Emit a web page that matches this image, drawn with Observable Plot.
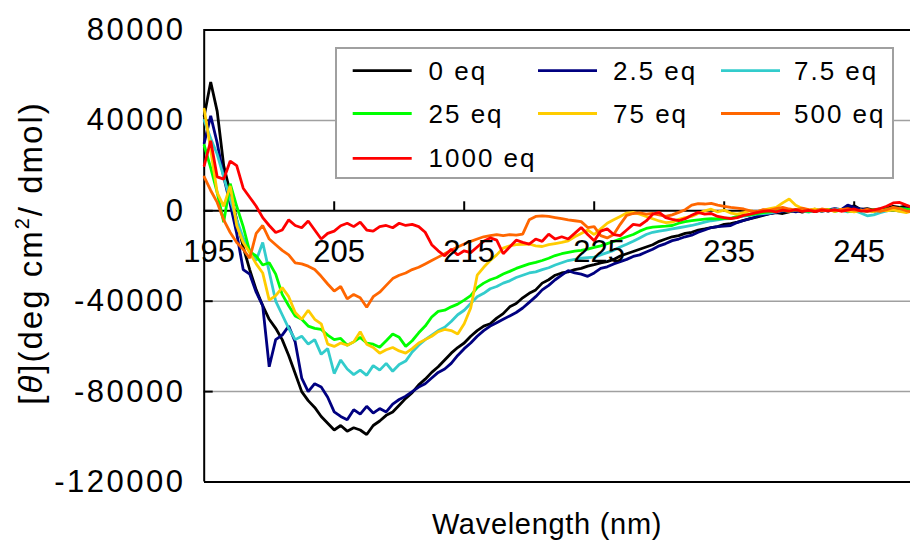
<!DOCTYPE html>
<html>
<head>
<meta charset="utf-8">
<script src="https://cdn.jsdelivr.net/npm/d3@7"></script>
<script src="https://cdn.jsdelivr.net/npm/@observablehq/plot@0.6"></script>
<style>
  html, body { margin: 0; padding: 0; background: #fff; }
  #chart { width: 910px; height: 549px; overflow: hidden; }
</style>
</head>
<body>
<div id="chart"></div>
<script>
// CD spectra: mean residue ellipticity vs wavelength, sampled every 0.5 nm from 195 nm
const startNm = 195;
const stepNm = 0.5;

const seriesNames = ["0 eq", "2.5 eq", "7.5 eq", "25 eq", "75 eq", "500 eq", "1000 eq"];
const seriesColors = ["#000000", "#000080", "#33cccc", "#00ff00", "#ffcc00", "#ff6600", "#ff0000"];

const eq0 = [
  42000, 57000, 44000, 20000, 8000, -4000, -16000, -26000, -35000, -42000,
  -48000, -52000, -57000, -64000, -72000, -80000, -84000, -87000, -91000, -94000,
  -97000, -95000, -97500, -96000, -97000, -99000, -95000, -93000, -90500, -89000,
  -86000, -83000, -80500, -77000, -74500, -71500, -69000, -66000, -63000, -60500,
  -58500, -55500, -53000, -51000, -50000, -47500, -45500, -42500, -41000, -38500,
  -36500, -35000, -32000, -30500, -28500, -27500, -27000, -26000, -25500, -24500,
  -23800, -23000, -22500, -21500, -20000, -19000, -18000, -17000, -16000, -15000,
  -13500, -12500, -11500, -11000, -10000, -9500, -8500, -8000, -7400, -7000,
  -6000, -5700, -5000, -4200, -3500, -2800, -2000, -1300, -800, -1200,
  -500, 300, -600, 200, -400, 500, -200, 800, 300, 1500,
  2200, 600, 1000, 300, 800, 1200, 2000, 1500, 2200, 1000,
  1500
];

const eq2_5 = [
  30000, 42000, 30000, 15000, 3000, -10000, -26000, -28000, -36000, -42000,
  -69000, -57000, -55000, -51000, -58000, -74000, -80000, -76500, -78000, -82500,
  -89000, -91000, -92500, -88000, -90000, -86500, -89500, -87500, -89000, -85500,
  -83500, -82000, -80000, -78000, -76500, -74000, -71500, -70000, -67500, -64000,
  -61000, -58500, -55500, -53000, -51000, -49500, -48000, -46500, -45000, -43000,
  -40500, -38000, -35000, -33000, -30500, -28500, -26500, -27500, -28000, -29000,
  -27500, -25500, -24800, -23500, -22500, -21500, -20200, -19500, -18200, -17000,
  -15500, -14500, -13200, -12500, -11500, -10800, -9500, -8500, -7400, -7000,
  -6800, -6500, -5200, -4300, -3500, -2500, -1800, -1300, -700, -300,
  200, -500, 300, 0, 700, -300, 400, 1000, 500, 2500,
  1500, 800, 300, -400, 600, 300, 1200, 800, 1000, 500,
  900
];

const eq7_5 = [
  40000, 32000, 25000, 15000, 5000, -4000, -12000, -17500, -22000, -14000,
  -27000, -40000, -46000, -52000, -57000, -55500, -59000, -57000, -63500, -61000,
  -72000, -66000, -70000, -72500, -70500, -72800, -68500, -70500, -67500, -71000,
  -68000, -66500, -62500, -59500, -57000, -55000, -53000, -51500, -49000, -46000,
  -44000, -41000, -38000, -36500, -34500, -33500, -32000, -31000, -29500, -28500,
  -27500, -27000, -26000, -25200, -24000, -23000, -22000, -21500, -21000, -20700,
  -20500, -19500, -18500, -17500, -16000, -14800, -13500, -12000, -10500, -9500,
  -9000, -8500, -8000, -7500, -7000, -6500, -5800, -5000, -4400, -4000,
  -3600, -3500, -2800, -2300, -2000, -1500, -1200, -1000, -500, 200,
  -300, 500, 0, -600, 300, 600, 0, 800, 300, -500,
  200, -1000, -2200, -1800, -800, 0, 500, -300, 300, -200,
  400
];

const eq25 = [
  29000, 19000, 8000, -5000, 12000, 2000, -7000, -18000, -20000, -24000,
  -23000, -28000, -37000, -42000, -46500, -48000, -51000, -52000, -52500, -55000,
  -57000, -56500, -59500, -58000, -56000, -58500, -59000, -60400, -57500, -54500,
  -56000, -60000, -57500, -54000, -51000, -47000, -44500, -44000, -42500, -41300,
  -39500, -37500, -34000, -32000, -30500, -29500, -28000, -26800, -25500, -24500,
  -23500, -22800, -22000, -21000, -19800, -19000, -18400, -17800, -17500, -17000,
  -16200, -15500, -14500, -13500, -12500, -11500, -10500, -9000, -7800, -7200,
  -7000, -6800, -6500, -5500, -4800, -4300, -4000, -3700, -3500, -3600,
  -3400, -3300, -2500, -2000, -1800, -1300, -800, -500, 0, 300,
  -200, 500, 200, -300, 400, 0, 600, -200, 300, 0,
  -400, 300, -200, 500, 0, 800, 300, 1200, 600, 900,
  400
];

const eq75 = [
  45000, 27000, 8000, 2000, 11000, -6500, -14000, -18500, -23500, -27500,
  -39500, -37500, -34000, -38000, -45000, -48000, -44000, -48000, -50000, -59000,
  -60000, -58500, -59500, -58000, -53500, -59000, -60500, -63000, -61500, -60500,
  -62000, -63000, -61000, -58500, -57000, -55500, -53500, -52500, -53000, -54500,
  -50000, -43000, -28500, -25000, -22000, -19500, -16500, -15500, -15000, -14800,
  -14700, -15500, -15800, -15000, -14500, -14000, -13300, -11500, -10000, -8500,
  -10500, -8000, -5500, -4000, -2500, -1000, -700, -1500, -2500, -3500,
  -4500, -5200, -5000, -3800, -3000, -2500, -1200, 0, 700, -500,
  300, -1000, -1500, -800, 0, -500, 300, 1000, 1500, 3500,
  5200, 2500, 1000, 300, 800, 0, 500, -300, 600, 0,
  -500, 300, 0, -400, 500, 0, 400, -300, -800, 0,
  -500
];

const eq500 = [
  15000, 9000, 3700, -4000, -9600, -14000, -17000, -21000, -10000, -6500,
  -12500, -15000, -17500, -19500, -23000, -23500, -24500, -26000, -29000, -32400,
  -35500, -33500, -39000, -37000, -38500, -42700, -38000, -36000, -33000, -30000,
  -28500, -27500, -26000, -25000, -23500, -22000, -20500, -19000, -17500, -16000,
  -14700, -13500, -12500, -11500, -11000, -10500, -11000, -10500, -10800, -10300,
  -4000, -2500, -2200, -2500, -3000, -3500, -4000, -4400, -4800, -7400,
  -7000, -11000, -12000, -10500, -6000, -2000, -1200, -900, -1500, -1200,
  -1800, -2500, -1800, -700, 500, 2500, 3200, 3000, 3300, 2500,
  2000, 1500, 1200, 800, 0, -500, 500, 200, 1000, 1500,
  800, 300, 1200, 500, 0, 800, 300, 0, 500, 1000,
  300, 0, 600, 200, -300, 500, 1500, 1000, 0, -500,
  300
];

const eq1000 = [
  20000, 31000, 15000, 14000, 22000, 20000, 10000, 6000, 2000, -3000,
  -6500, -9600, -8500, -4000, -6500, -7500, -4500, -8500, -12500, -10000,
  -9000, -6600, -5500, -7000, -5000, -8500, -9000, -7000, -6500, -7500,
  -5500, -6500, -6000, -7000, -9500, -15000, -17700, -19900, -17000, -19500,
  -17700, -18500, -16000, -13500, -12000, -13000, -19000, -16000, -13000, -14000,
  -14700, -12500, -13500, -10300, -12500, -11500, -12500, -10000, -7400, -10500,
  -13300, -9000, -8000, -10500, -11000, -8500, -6000, -6500, -4500, -1500,
  -700, -3000, -3800, -4400, -3500, -2000, -700, -1500, -1200, -2500,
  -3000, -3500, -3000, -2000, -1500, -800, -300, 0, -500, 300,
  -200, 500, -300, 200, -400, 300, 0, 500, -200, 300,
  800, 0, -300, 400, 1000, 2000, 3500, 3700, 2500, 1500,
  2000
];

const seriesValues = [eq0, eq2_5, eq7_5, eq25, eq75, eq500, eq1000];

const xTicks = [195, 205, 215, 225, 235, 245];
const yTicks = [80000, 40000, 0, -40000, -80000, -120000];
const gridValues = [40000, -40000, -80000];

// long-format table: one row per (series, wavelength)
const spectra = seriesNames.map((name, s) =>
  seriesValues[s].map((v, i) => ({nm: startNm + i * stepNm, theta: v, series: name}))
);

const font = "'Liberation Sans', Arial, Helvetica, sans-serif";

const chart = Plot.plot({
  width: 910,
  height: 549,
  marginLeft: 204,
  marginTop: 29,
  marginBottom: 67.5,
  marginRight: 0,
  style: {fontFamily: font, color: "#000", background: "#fff", overflow: "hidden"},
  x: {domain: [195, 250], range: [203.7, 918.7], axis: null},
  y: {domain: [-120000, 80000], range: [481.5, 29.5]},
  color: {domain: seriesNames, range: seriesColors},
  marks: [
    Plot.ruleY(gridValues, {stroke: "#a0a0a0", strokeWidth: 1.5}),
    Plot.ruleY([0], {stroke: "#000", strokeWidth: 2}),
    Plot.ruleX(xTicks.slice(1), {y1: 0, y2: 0, insetTop: -9, stroke: "#000", strokeWidth: 2}),
    Plot.ruleY([80000, -120000], {stroke: "#000", strokeWidth: 2}),
    Plot.ruleX([195], {stroke: "#000", strokeWidth: 2}),
    Plot.ruleY(gridValues.concat([0]), {x1: 195, x2: 195, insetRight: -9, stroke: "#000", strokeWidth: 2}),
    ...spectra.map(rows => Plot.line(rows, {
      x: "nm", y: "theta", stroke: "series", strokeWidth: 2.8, strokeLinejoin: "miter"
    })),
    Plot.axisY(yTicks, {
      anchor: "left", tickSize: 0, tickPadding: 19, fontSize: 31,
      tickFormat: d => String(d), label: null
    }),
    Plot.text(xTicks, {
      x: d => d, y: 0, dx: 5, dy: 41, text: d => String(d),
      fontSize: 31, ariaLabel: "x tick label"
    })
  ]
});

document.getElementById("chart").appendChild(chart);

const svg = d3.select(chart);
svg.selectAll('g[aria-label="y-axis tick label"] text').style("letter-spacing", "2.5px");
svg.selectAll('g[aria-label="x tick label"] text').style("letter-spacing", "2.5px");

// axis titles
svg.append("text")
  .attr("x", 547)
  .attr("y", 534)
  .attr("text-anchor", "middle")
  .attr("font-family", font)
  .attr("font-size", 29)
  .style("letter-spacing", "0.7px")
  .text("Wavelength (nm)");

const yTitle = svg.append("text")
  .attr("transform", "translate(42,253) rotate(-90)")
  .attr("text-anchor", "middle")
  .attr("font-family", font)
  .attr("font-size", 33)
  .style("letter-spacing", "2px");
yTitle.append("tspan").text("[");
yTitle.append("tspan").attr("font-style", "italic").text("θ");
yTitle.append("tspan").text("](deg cm");
yTitle.append("tspan").attr("font-size", 20).attr("dy", -13).text("2");
yTitle.append("tspan").attr("dy", 13).text("/ dmol)");

// legend box, three columns
const legend = svg.append("g")
  .attr("font-family", font)
  .attr("font-size", 26)
  .attr("text-anchor", "start");
legend.append("rect")
  .attr("x", 336).attr("y", 48)
  .attr("width", 557).attr("height", 130)
  .attr("fill", "#fff").attr("stroke", "#a0a0a0").attr("stroke-width", 2);
const legendCols = [{line: 352.7, text: 428.5}, {line: 538, text: 613}, {line: 721, text: 794}];
const legendRows = [70.7, 113.5, 158.3];
seriesNames.forEach((name, i) => {
  const c = legendCols[i % 3];
  const ry = legendRows[Math.floor(i / 3)];
  legend.append("line")
    .attr("x1", c.line).attr("x2", c.line + 59)
    .attr("y1", ry).attr("y2", ry)
    .attr("stroke", seriesColors[i]).attr("stroke-width", 2.8);
  legend.append("text")
    .attr("x", c.text).attr("y", ry).attr("dy", "0.35em")
    .attr("text-anchor", "start")
    .style("letter-spacing", "2px")
    .text(name);
});
</script>
</body>
</html>
